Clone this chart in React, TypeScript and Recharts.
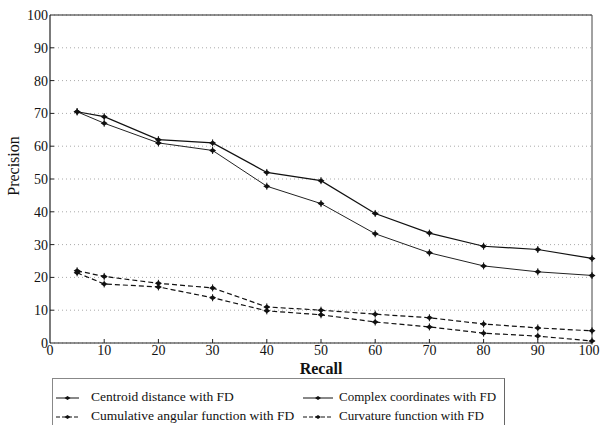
import React from 'react';
import { LineChart, Line, XAxis, YAxis, CartesianGrid, ReferenceLine } from 'recharts';

const recall = [5, 10, 20, 30, 40, 50, 60, 70, 80, 90, 100];
const centroid = [70.5, 69, 62, 61, 52, 49.5, 39.5, 33.5, 29.5, 28.5, 25.8];
const complexCoords = [70.5, 67, 61, 58.7, 47.8, 42.5, 33.3, 27.5, 23.5, 21.7, 20.6];
const cumulative = [22, 20.3, 18.2, 16.8, 11, 10, 8.8, 7.7, 5.8, 4.6, 3.7];
const curvature = [21.4, 18, 17.1, 13.8, 9.8, 8.6, 6.4, 4.9, 3, 2.1, 0.6];
const xTicks = [0, 10, 20, 30, 40, 50, 60, 70, 80, 90, 100];
const yTicks = [0, 10, 20, 30, 40, 50, 60, 70, 80, 90, 100];
const seriesNames = [
  'Centroid distance with FD',
  'Complex coordinates with FD',
  'Cumulative angular function with FD',
  'Curvature function with FD',
];

const data = recall.map((r, i) => ({
  recall: r,
  centroid: centroid[i],
  complex: complexCoords[i],
  cumulative: cumulative[i],
  curvature: curvature[i],
}));

const FONT = '"Liberation Serif", "DejaVu Serif", serif';

const StarDot = (props: any) => {
  const { cx, cy } = props;
  if (cx == null || cy == null) return null;
  return (
    <g>
      <path d={`M${cx - 3.5},${cy} L${cx},${cy - 2.5} L${cx + 3.5},${cy} L${cx},${cy + 2.5} Z`} fill="#111" />
      <line x1={cx} y1={cy - 3.5} x2={cx} y2={cy + 3.5} stroke="#111" strokeWidth={1} />
    </g>
  );
};

const XTick = (props: any) => {
  const { x, y, payload } = props;
  const axisY = y - 3;
  const tx = payload.value === 100 ? x - 3 : x;
  return (
    <g>
      {payload.value > 0 && payload.value < 100 ? (
        <line x1={x} y1={axisY} x2={x} y2={axisY - 4} stroke="#222" />
      ) : null}
      <text x={tx} y={y + 9} textAnchor="middle" fontFamily={FONT} fontSize={14} fill="#111">
        {payload.value}
      </text>
    </g>
  );
};

const YTick = (props: any) => {
  const { x, y, payload } = props;
  const axisX = x + 3;
  return (
    <g>
      {payload.value > 0 && payload.value < 100 ? (
        <line x1={axisX} y1={y} x2={axisX + 4} y2={y} stroke="#222" />
      ) : null}
      <text x={x + 1} y={y + 5} textAnchor="end" fontFamily={FONT} fontSize={14} fill="#111">
        {payload.value}
      </text>
    </g>
  );
};

const YLabel = (props: any) => {
  const vb = props.viewBox || {};
  const cy = (vb.y || 0) + (vb.height || 0) / 2 - 13;
  return (
    <text
      x={13}
      y={cy}
      transform={`rotate(-90, 13, ${cy})`}
      textAnchor="middle"
      dominantBaseline="central"
      fontFamily={FONT}
      fontSize={16}
      fill="#111"
    >
      Precision
    </text>
  );
};

const XLabel = (props: any) => {
  const vb = props.viewBox || {};
  const cx = (vb.x || 0) + (vb.width || 0) / 2;
  return (
    <text x={cx} y={374} textAnchor="middle" fontFamily={FONT} fontSize={16} fontWeight="bold" fill="#111">
      Recall
    </text>
  );
};

const Sample = ({ dashed, width }: { dashed: boolean; width: number }) => (
  <svg width={width} height={8} style={{ display: 'block' }}>
    <line x1={0} y1={4} x2={width} y2={4} stroke="#111" strokeWidth={1} strokeDasharray={dashed ? '4 2' : undefined} />
    <path d={`M${width / 2 - 3},4 L${width / 2},2 L${width / 2 + 3},4 L${width / 2},6 Z`} fill="#111" />
  </svg>
);

const LegendBox = () => {
  const item = (name: string, dashed: boolean, left: number, top: number, textLeft: number, w: number, fs: number) => (
    <div key={name} style={{ position: 'absolute', left, top, height: 8 }}>
      <Sample dashed={dashed} width={w} />
      <span
        style={{
          position: 'absolute',
          left: textLeft,
          top: -5,
          lineHeight: '16px',
          whiteSpace: 'nowrap',
          fontFamily: FONT,
          fontSize: fs,
          color: '#111',
        }}
      >
        {name}
      </span>
    </div>
  );
  return (
    <div
      style={{
        position: 'absolute',
        left: 52,
        top: 378,
        width: 453,
        height: 60,
        borderTop: '1px solid #888',
        borderLeft: '1px solid #888',
        borderRight: '1px solid #666',
        boxSizing: 'border-box',
      }}
    >
      {item(seriesNames[0], false, 3, 15, 35, 23, 13.5)}
      {item(seriesNames[2], true, 3, 34, 35, 23, 13.5)}
      {item(seriesNames[1], false, 250, 15, 36, 30, 13)}
      {item(seriesNames[3], true, 250, 34, 36, 30, 13)}
    </div>
  );
};

export default function App() {
  return (
    <div style={{ position: 'absolute', left: 0, top: 0, width: 600, height: 425, background: '#fff', overflow: 'hidden' }}>
      <LineChart width={600} height={425} data={data} margin={{ top: 15, right: 8, bottom: 52, left: 0 }}>
        <CartesianGrid vertical={false} horizontal={true} stroke="#aaa" strokeDasharray="1 3" />
        <XAxis
          dataKey="recall"
          type="number"
          domain={[0, 100]}
          ticks={xTicks}
          height={30}
          tickSize={0}
          tickMargin={3}
          tick={<XTick />}
          axisLine={{ stroke: '#222', strokeWidth: 1.2 }}
          label={<XLabel />}
          interval={0}
        />
        <YAxis
          type="number"
          domain={[0, 100]}
          ticks={yTicks}
          width={50}
          tickSize={0}
          tickMargin={3}
          tick={<YTick />}
          axisLine={{ stroke: '#222', strokeWidth: 1.2 }}
          label={<YLabel />}
          interval={0}
        />
        <ReferenceLine y={100} stroke="#222" strokeWidth={1} />
        <ReferenceLine x={100} stroke="#444" strokeWidth={1} />
        <Line dataKey="centroid" name={seriesNames[0]} stroke="#111" strokeWidth={1.2} dot={<StarDot />} isAnimationActive={false} />
        <Line dataKey="complex" name={seriesNames[1]} stroke="#222" strokeWidth={1} dot={<StarDot />} isAnimationActive={false} />
        <Line dataKey="cumulative" name={seriesNames[2]} stroke="#111" strokeWidth={1.2} strokeDasharray="5 3" dot={<StarDot />} isAnimationActive={false} />
        <Line dataKey="curvature" name={seriesNames[3]} stroke="#111" strokeWidth={1.2} strokeDasharray="5 3" dot={<StarDot />} isAnimationActive={false} />
      </LineChart>
      <LegendBox />
    </div>
  );
}
